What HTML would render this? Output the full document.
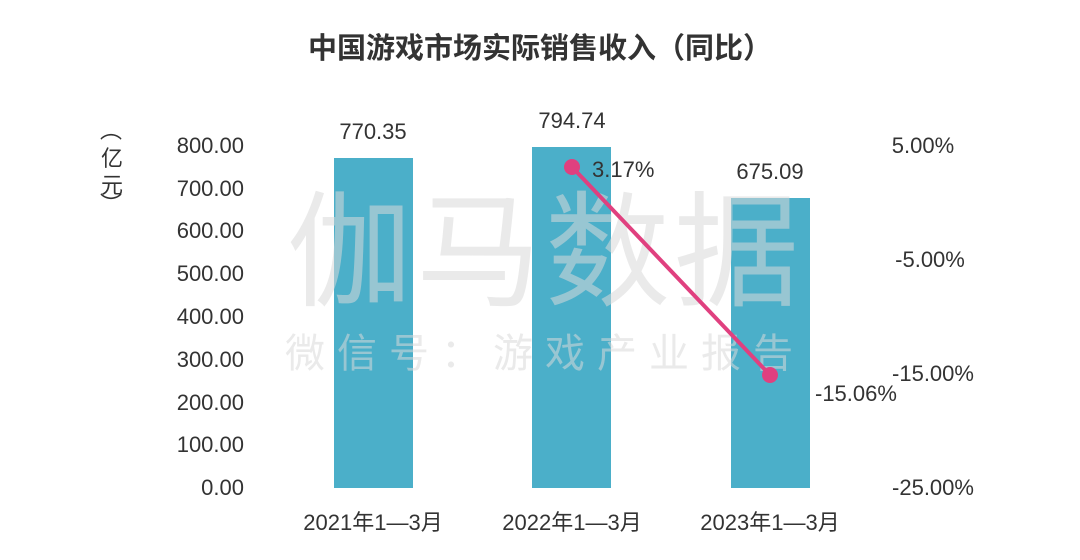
<!DOCTYPE html>
<html><head><meta charset="utf-8"><style>
body{margin:0;background:#fff;}
svg{display:block;font-family:"Liberation Sans","Noto Sans CJK SC",sans-serif;}
</style></head><body>
<svg width="1080" height="560" viewBox="0 0 1080 560" xmlns="http://www.w3.org/2000/svg">
<rect width="1080" height="560" fill="#fff"/>
<text x="540" y="58" text-anchor="middle" font-size="29" font-weight="bold" fill="#333">中国游戏市场实际销售收入（同比）</text>
<g fill="#4bafc9">
<rect x="334" y="158" width="79" height="330"/>
<rect x="532" y="147" width="79" height="341"/>
<rect x="731" y="198" width="79" height="290"/>
</g>
<text x="545" y="296" text-anchor="middle" font-size="125" fill="#d8d8d8" fill-opacity="0.55" letter-spacing="4">伽马数据</text>
<text x="545" y="367" text-anchor="middle" font-size="40" fill="#d8d8d8" fill-opacity="0.55" letter-spacing="12">微信号：游戏产业报告</text>
<g font-size="22" fill="#333" text-anchor="end">
<text x="244" y="153">800.00</text><text x="244" y="196">700.00</text><text x="244" y="238">600.00</text><text x="244" y="281">500.00</text><text x="244" y="324">400.00</text><text x="244" y="367">300.00</text><text x="244" y="410">200.00</text><text x="244" y="452">100.00</text><text x="244" y="495">0.00</text>
</g>
<g font-size="22" fill="#333" text-anchor="middle">
<text x="923" y="153">5.00%</text><text x="930" y="267">-5.00%</text><text x="933" y="381">-15.00%</text><text x="933" y="495">-25.00%</text>
<text x="373" y="139">770.35</text><text x="572" y="128">794.74</text><text x="770" y="179">675.09</text>
<text x="373" y="530">2021年1—3月</text><text x="572" y="530">2022年1—3月</text><text x="770" y="530">2023年1—3月</text>
</g>
<g font-size="22" fill="#333">
<text x="592" y="177">3.17%</text><text x="815" y="401">-15.06%</text>
<text x="100" y="138">︵</text><text x="101" y="166">亿</text><text x="101" y="193">元</text><text x="100" y="212">︶</text>
</g>
<line x1="572" y1="167" x2="770" y2="375" stroke="#e0407f" stroke-width="4"/>
<circle cx="572" cy="167" r="8" fill="#e0407f"/>
<circle cx="770" cy="375" r="8" fill="#e0407f"/>
</svg>
</body></html>
